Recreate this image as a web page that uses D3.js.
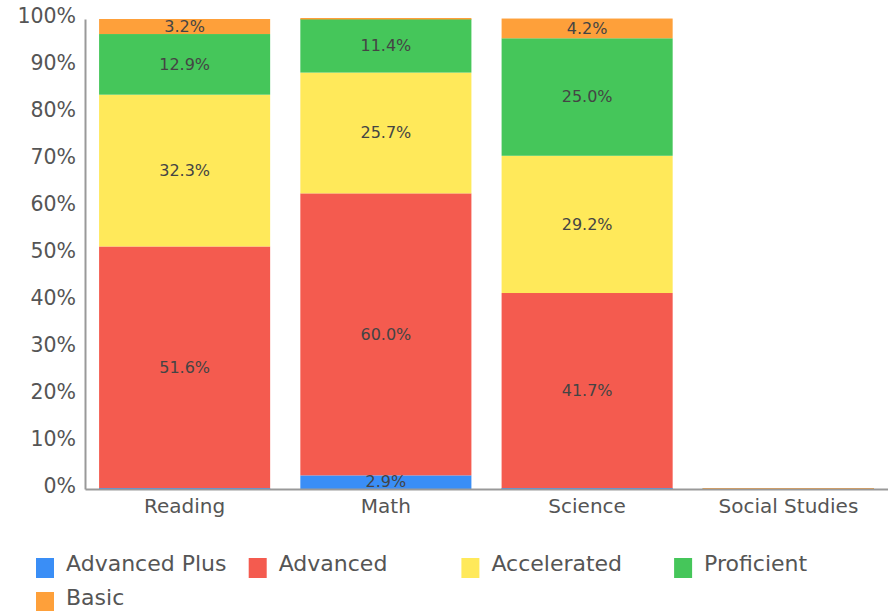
<!DOCTYPE html>
<html>
<head>
<meta charset="utf-8">
<script src="https://cdn.jsdelivr.net/npm/d3@7"></script>
<style>
  body { margin: 0; background: #fff; }
  text { font-family: "DejaVu Sans", sans-serif; }
</style>
</head>
<body>
<div id="chart"></div>
<script>
const subjects = ["Reading", "Math", "Science", "Social Studies"];
const levels = ["Advanced Plus", "Advanced", "Accelerated", "Proficient", "Basic"];
const advancedPlus = [0, 2.9, 0, 0];
const advanced = [51.6, 60.0, 41.7, 0];
const accelerated = [32.3, 25.7, 29.2, 0];
const proficient = [12.9, 11.4, 25.0, 0];
const basic = [3.2, 0, 4.2, 0];
const yTicks = [0, 10, 20, 30, 40, 50, 60, 70, 80, 90, 100];
const colors = ["#3a8ef6", "#f45b4f", "#ffe95a", "#45c65a", "#fea03a"];

const seriesValues = [advancedPlus, advanced, accelerated, proficient, basic];
const rows = subjects.map((s, i) => {
  const r = { subject: s };
  levels.forEach((l, j) => (r[l] = seriesValues[j][i]));
  return r;
});

const width = 888, height = 611;
const svg = d3.select("#chart").append("svg")
  .attr("width", width).attr("height", height);

const x = d3.scaleBand().domain(subjects).range([85, 888])
  .paddingInner(0.15).paddingOuter(0.07);
const y = d3.scaleLinear().domain([0, 100]).range([489, 19]);
const color = d3.scaleOrdinal().domain(levels).range(colors);

const series = d3.stack().keys(levels)(rows);

// stacked segments
svg.append("g").selectAll(".layer").data(series).join("g")
  .attr("class", "layer")
  .attr("fill", d => color(d.key))
  .selectAll("rect").data(d => d.filter(p => p[1] - p[0] > 0)).join("rect")
  .attr("x", p => x(p.data.subject))
  .attr("width", x.bandwidth())
  .attr("y", p => y(p[1]))
  .attr("height", p => y(p[0]) - y(p[1]));

// zero-size segments drawn on top as thin lines
const zeroG = svg.append("g");
series.forEach(s => {
  s.forEach(p => {
    if (p[1] - p[0] === 0) {
      zeroG.append("rect")
        .attr("x", x(p.data.subject))
        .attr("width", x.bandwidth())
        .attr("y", y(p[1]) - 1)
        .attr("height", 1.5)
        .attr("fill", color(s.key));
    }
  });
});

// value labels
series.forEach(s => {
  s.forEach(p => {
    const v = p[1] - p[0];
    if (v > 0) {
      svg.append("text")
        .attr("x", x(p.data.subject) + x.bandwidth() / 2)
        .attr("y", (y(p[0]) + y(p[1])) / 2)
        .attr("dy", "0.33em")
        .attr("text-anchor", "middle")
        .style("font-size", "16px")
        .style("fill", "#444")
        .text(v.toFixed(1) + "%");
    }
  });
});

// axes
const yAxis = svg.append("g").attr("transform", "translate(85,0)")
  .call(d3.axisLeft(y).tickValues(yTicks).tickSize(0).tickPadding(9).tickFormat(d => d + "%"));
yAxis.select(".domain").attr("stroke", "#999").attr("stroke-width", 2);
yAxis.selectAll("text").style("font-size", "20.5px").style("fill", "#555").attr("dy", "0.18em");

const xAxis = svg.append("g").attr("transform", "translate(0,489)")
  .call(d3.axisBottom(x).tickSize(0).tickPadding(10));
xAxis.select(".domain").attr("stroke", "#999").attr("stroke-width", 2);
xAxis.selectAll("text").style("font-size", "20px").style("fill", "#555");

// legend
const legend = svg.append("g");
levels.forEach((l, i) => {
  const col = i % 4, row = Math.floor(i / 4);
  const lx = 36 + col * 212.7, ly = 571 + row * 34;
  legend.append("rect").attr("x", lx).attr("y", ly - 13).attr("width", 18).attr("height", 20)
    .attr("fill", color(l));
  legend.append("text").attr("x", lx + 30).attr("y", ly)
    .style("font-size", "22px").style("fill", "#555")
    .text(l);
});
</script>
</body>
</html>
